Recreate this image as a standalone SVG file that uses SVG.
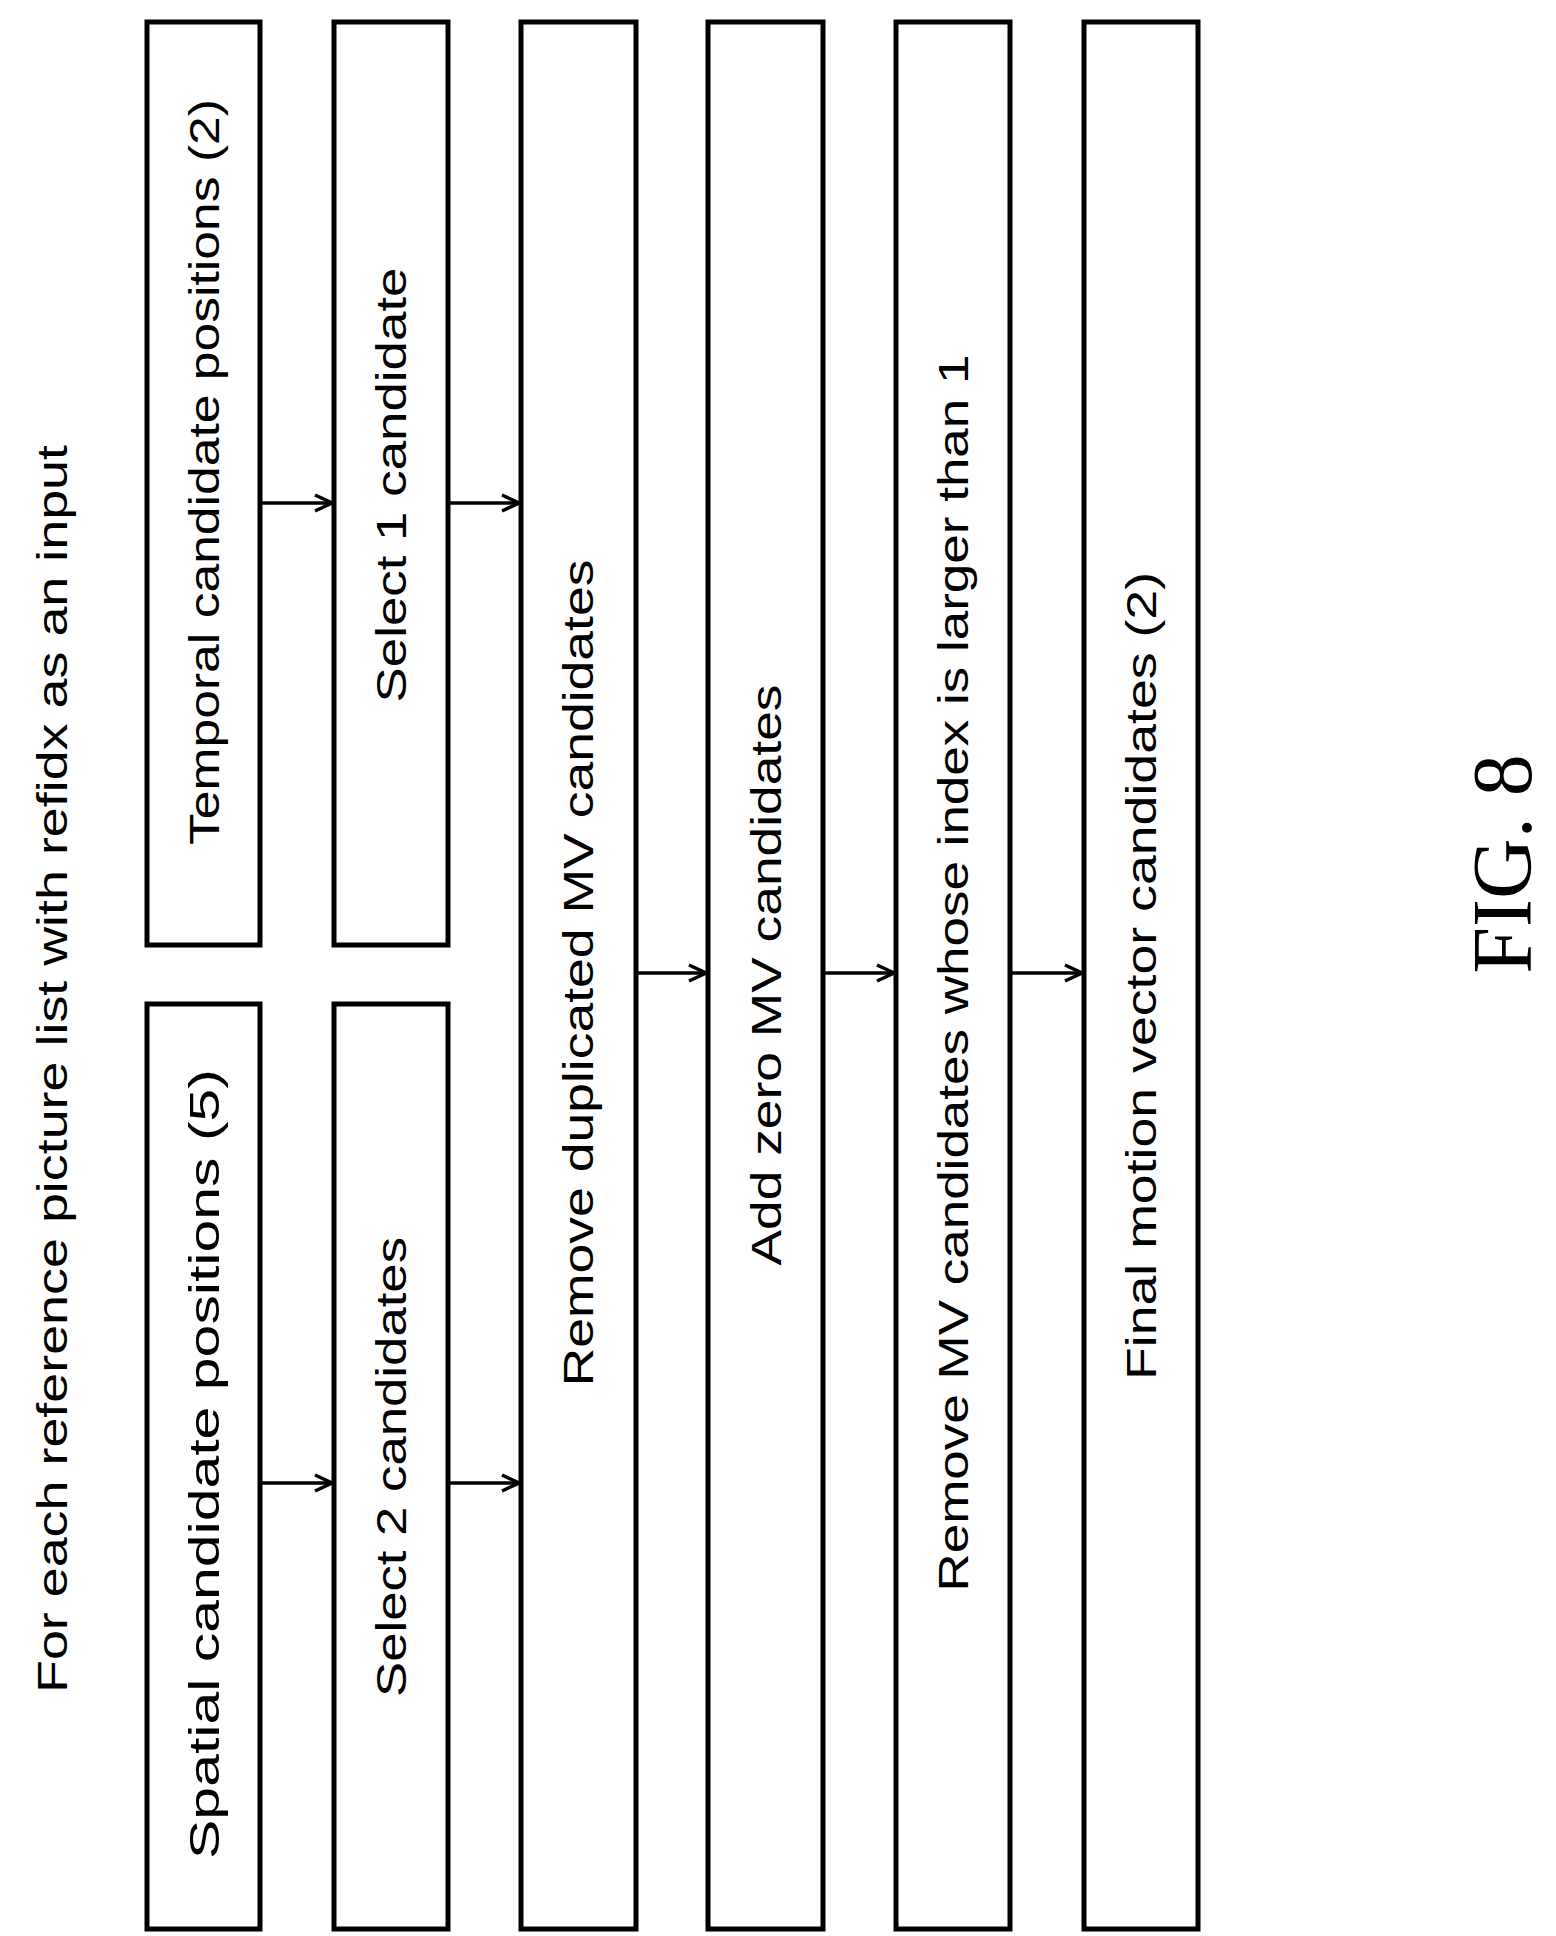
<svg xmlns="http://www.w3.org/2000/svg" width="1556" height="1936" viewBox="0 0 1556 1936">
<style>
rect{fill:#fff;stroke:#000;stroke-width:5}
text{font-family:"Liberation Sans",Arial,sans-serif;font-size:42px;fill:#000;text-anchor:middle;dominant-baseline:central}
.c line{stroke:#000;stroke-width:3.5;marker-end:url(#a)}
</style>
<defs><marker id="a" markerWidth="20" markerHeight="20" refX="19" refY="10" orient="auto" markerUnits="userSpaceOnUse"><path d="M2,2 L19,10 L2,18" fill="none" stroke="#000" stroke-width="3.5"/></marker></defs>
<rect width="1556" height="1936" style="fill:#fff;stroke:none"/>
<text id="title" transform="translate(52,1069) rotate(-90)" textLength="1248" lengthAdjust="spacingAndGlyphs">For each reference picture list with refidx as an input</text>
<g id="temporal"><rect x="147" y="22" width="113" height="923"/><text transform="translate(204,472) rotate(-90)" textLength="746" lengthAdjust="spacingAndGlyphs">Temporal candidate positions (2)</text></g>
<g id="spatial"><rect x="147" y="1004" width="113" height="925"/><text transform="translate(204,1464) rotate(-90)" textLength="790" lengthAdjust="spacingAndGlyphs">Spatial candidate positions (5)</text></g>
<g id="sel1"><rect x="334" y="22" width="114" height="923"/><text transform="translate(391,485) rotate(-90)" textLength="435" lengthAdjust="spacingAndGlyphs">Select 1 candidate</text></g>
<g id="sel2"><rect x="334" y="1004" width="114" height="925"/><text transform="translate(391,1467) rotate(-90)" textLength="460" lengthAdjust="spacingAndGlyphs">Select 2 candidates</text></g>
<g id="remdup"><rect x="521" y="22" width="115" height="1907"/><text transform="translate(578,973) rotate(-90)" textLength="827" lengthAdjust="spacingAndGlyphs">Remove duplicated MV candidates</text></g>
<g id="addzero"><rect x="708" y="22" width="115" height="1907"/><text transform="translate(766,975) rotate(-90)" textLength="581" lengthAdjust="spacingAndGlyphs">Add zero MV candidates</text></g>
<g id="remidx"><rect x="896" y="22" width="114" height="1907"/><text transform="translate(953,973) rotate(-90)" textLength="1237" lengthAdjust="spacingAndGlyphs">Remove MV candidates whose index is larger than 1</text></g>
<g id="final"><rect x="1084" y="22" width="114" height="1907"/><text transform="translate(1141,976) rotate(-90)" textLength="808" lengthAdjust="spacingAndGlyphs">Final motion vector candidates (2)</text></g>
<g class="c" id="connectors">
<line x1="260" y1="503" x2="332" y2="503"/>
<line x1="448" y1="503" x2="519" y2="503"/>
<line x1="260" y1="1483" x2="332" y2="1483"/>
<line x1="448" y1="1483" x2="519" y2="1483"/>
<line x1="636" y1="973" x2="706" y2="973"/>
<line x1="823" y1="973" x2="894" y2="973"/>
<line x1="1010" y1="973" x2="1082" y2="973"/>
</g>
<text id="fig" transform="translate(1502,864) rotate(-90)" style="font-family:'Liberation Serif','Times New Roman',serif;font-size:84px">FIG. 8</text>
</svg>
